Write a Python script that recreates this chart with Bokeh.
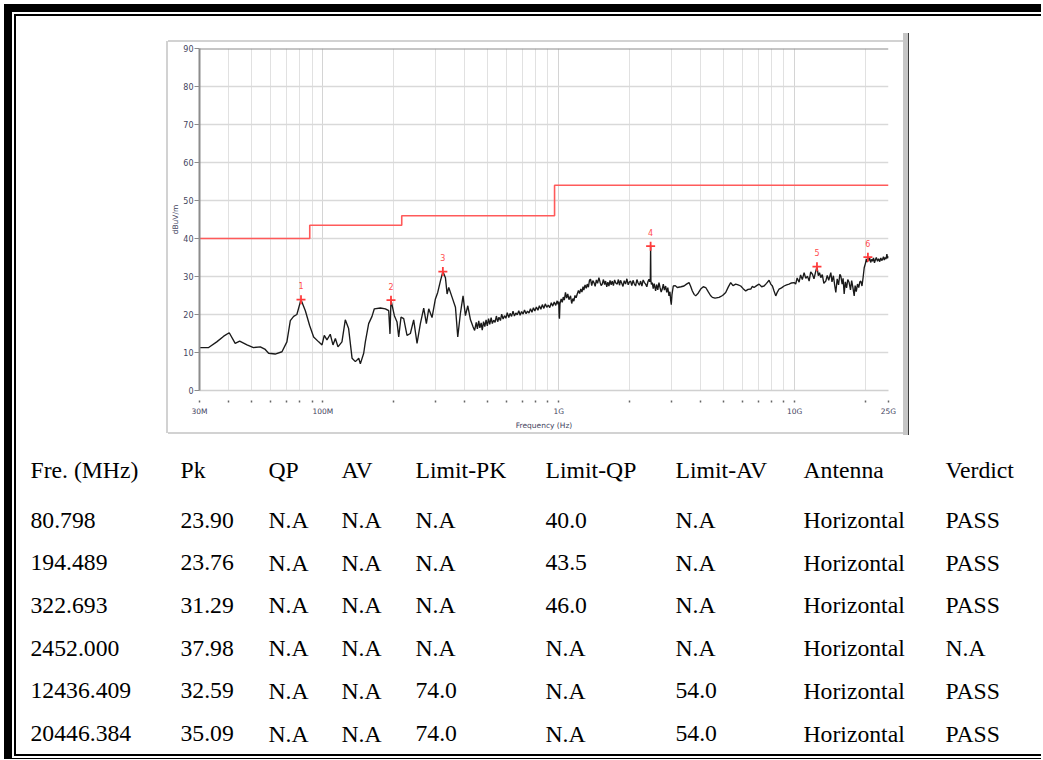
from bokeh.plotting import figure
from bokeh.models import (Range1d, FixedTicker, CustomJSTickFormatter, Span,
                          ColumnDataSource, Spacer)
from bokeh.layouts import column, row
from bokeh.embed import file_html
from bokeh.resources import INLINE
from bokeh.core.properties import value

# ---------------------------------------------------------------- data
# measured trace read from the picture: (frequency in MHz, level in dBuV/m)
trace_30m_434m = [
    (30.0, 11.3), (32.8, 11.3), (35.5, 12.8), (38.0, 14.3), (40.1, 15.2), (42.5, 12.4),
    (44.4, 13.0), (47.7, 12.0), (50.8, 11.3), (54.3, 11.5), (57.0, 10.8), (58.9, 9.8),
    (62.8, 9.6), (67.1, 10.2), (70.4, 12.8), (72.8, 18.4), (75.2, 19.5), (77.6, 20.0),
    (80.8, 23.9), (84.3, 21.0), (87.9, 17.1), (91.4, 14.1), (96.0, 12.8), (99.2, 12.0),
    (101.4, 14.5), (104.1, 13.3), (107.5, 14.8), (110.4, 12.0), (113.0, 13.7), (115.9, 11.5),
    (120.5, 12.8), (124.5, 18.6), (128.6, 16.3), (133.0, 8.5), (137.4, 7.6), (142.0, 8.5),
    (144.2, 7.0), (149.0, 9.8), (151.4, 12.8), (156.4, 17.6), (161.6, 19.5), (165.3, 21.5),
    (175.4, 21.7), (184.1, 21.5), (190.2, 21.0), (192.6, 14.9), (194.5, 23.76), (201.0, 19.7),
    (206.3, 18.0), (209.7, 14.1), (214.5, 19.3), (220.2, 18.9), (227.4, 14.5), (235.0, 15.0),
    (242.7, 18.6), (250.8, 12.4), (259.1, 17.6), (267.7, 21.7), (274.7, 17.6), (281.1, 21.5),
    (290.3, 19.2), (300.0, 24.1), (306.9, 25.8), (315.0, 28.8), (322.7, 31.29), (330.9, 29.7),
    (336.3, 25.4), (341.8, 27.1), (353.2, 24.5), (364.9, 21.9), (373.2, 14.1), (382.8, 20.2),
    (393.0, 24.9), (402.2, 19.7), (411.6, 22.3), (422.5, 18.6), (433.6, 16.7),
]
trace_440m_1g = [
    (440, 15.8), (447, 17.9), (452, 16.2), (458, 18.3), (463, 16.5), (469, 17.8), (474, 15.9),
    (480, 18.1), (486, 16.8), (492, 18.6), (498, 17.0), (504, 18.9), (510, 17.4), (517, 19.2),
    (523, 17.6), (530, 18.5), (537, 17.9), (544, 19.6), (551, 18.1), (558, 19.3), (566, 18.4),
    (573, 20.1), (581, 18.8), (589, 19.7), (597, 19.0), (605, 20.5), (614, 19.2), (622, 20.3),
    (631, 19.5), (640, 20.9), (649, 19.6), (658, 20.4), (667, 19.9), (677, 21.0), (686, 19.8),
    (696, 20.8), (706, 20.1), (716, 21.2), (727, 20.2), (737, 20.9), (748, 20.4), (759, 21.5),
    (770, 20.6), (781, 21.8), (792, 20.9), (804, 22.0), (816, 21.1), (828, 22.3), (840, 21.4),
    (852, 22.6), (865, 21.6), (877, 22.8), (890, 21.9), (903, 22.5), (916, 21.8), (930, 23.1),
    (943, 22.2), (957, 23.3), (971, 22.4), (985, 23.6), (994, 22.7),
]
trace_1g_3g = [
    (1000, 23.4), (1004, 19.5), (1007, 18.9), (1012, 22.8), (1024, 24.1), (1035, 23.2),
    (1045, 24.6), (1056, 23.8), (1068, 25.8), (1080, 24.3), (1092, 25.4), (1105, 23.9),
    (1122, 24.9), (1135, 22.9), (1148, 24.2), (1159, 23.5), (1172, 25.0), (1185, 24.4),
    (1198, 25.4), (1212, 26.3), (1226, 25.5), (1240, 26.7), (1254, 25.9), (1268, 27.3),
    (1278, 26.4), (1293, 27.8), (1308, 26.9), (1321, 28.0), (1336, 27.2), (1350, 29.0),
    (1364, 29.3), (1380, 27.6), (1395, 28.9), (1410, 28.4), (1427, 27.4), (1444, 29.1),
    (1461, 28.2), (1480, 29.7), (1497, 28.5), (1513, 27.6), (1529, 28.0), (1547, 29.2),
    (1565, 27.9), (1580, 28.8), (1598, 27.3), (1615, 28.5), (1632, 27.5), (1650, 29.0),
    (1668, 27.8), (1686, 28.8), (1705, 27.6), (1725, 29.1), (1745, 28.3), (1770, 28.0),
    (1790, 29.2), (1810, 27.7), (1828, 29.0), (1850, 28.2), (1872, 27.4), (1895, 28.9),
    (1920, 28.0), (1945, 29.4), (1970, 27.8), (1995, 28.6), (2017, 28.8), (2040, 27.6),
    (2065, 29.0), (2090, 28.1), (2117, 27.5), (2145, 29.2), (2170, 28.3), (2197, 27.7),
    (2224, 28.8), (2252, 27.5), (2280, 29.1), (2308, 28.4), (2335, 28.0), (2363, 27.3),
    (2390, 28.7), (2413, 29.3), (2430, 28.6), (2445, 29.5), (2452, 37.98), (2459, 29.0),
    (2470, 27.9), (2492, 28.4), (2515, 26.8), (2540, 28.1), (2575, 26.2), (2600, 27.9),
    (2630, 26.5), (2660, 28.4), (2690, 27.0), (2718, 25.9), (2747, 26.7), (2775, 28.0),
    (2805, 26.4), (2839, 27.5), (2870, 25.8), (2900, 27.1), (2933, 24.9), (2960, 26.0),
    (2985, 23.5), (3000, 22.6), (3020, 25.2), (3059, 27.5),
]
trace_3g_10g = [
    (3120, 27.6), (3181, 27.1), (3300, 27.3), (3396, 27.5), (3480, 28.0), (3567, 28.4),
    (3620, 27.5), (3685, 26.2), (3750, 25.3), (3807, 24.9), (3900, 25.6), (3997, 26.7),
    (4100, 27.3), (4198, 27.1), (4300, 26.0), (4400, 25.0), (4480, 24.5), (4600, 24.3),
    (4782, 24.5), (4950, 25.0), (5103, 25.8), (5230, 27.2), (5358, 28.4), (5480, 27.6),
    (5626, 28.0), (5760, 27.8), (5909, 27.5), (6050, 26.8), (6205, 26.2), (6350, 26.6),
    (6516, 26.7), (6620, 27.4), (6729, 27.1), (6900, 27.6), (7067, 28.0), (7250, 27.3),
    (7421, 27.5), (7600, 28.2), (7792, 29.0), (7920, 28.0), (8052, 27.5), (8180, 26.2),
    (8318, 24.9), (8450, 25.9), (8593, 26.7), (8800, 27.0), (9024, 27.5), (9250, 27.8),
    (9474, 28.0), (9700, 28.3), (9949, 28.4),
]
trace_10g_25g = [
    (10100, 28.0), (10250, 29.6), (10447, 28.5), (10600, 30.4), (10780, 29.2), (10970, 31.0),
    (11150, 29.5), (11333, 30.1), (11520, 28.8), (11700, 31.2), (11900, 30.6), (12080, 29.4),
    (12250, 31.0), (12436, 32.59), (12600, 30.2), (12750, 31.0), (12912, 29.7), (13100, 30.5),
    (13300, 28.2), (13557, 28.8), (13750, 30.3), (13950, 29.0), (14235, 31.0), (14400, 28.6),
    (14600, 30.2), (14800, 27.5), (14948, 25.8), (15150, 29.4), (15350, 27.8), (15550, 30.6),
    (15700, 30.1), (15900, 28.0), (16050, 29.5), (16218, 25.4), (16400, 28.6), (16600, 27.0),
    (16800, 29.2), (17025, 28.4), (17250, 26.5), (17450, 28.9), (17650, 27.2), (17886, 24.9),
    (18050, 27.6), (18250, 26.0), (18477, 28.0), (18700, 27.1), (18900, 28.6), (19089, 28.8),
    (19300, 27.5), (19500, 29.6), (19722, 32.3), (19950, 33.4), (20150, 34.6), (20300, 33.8),
    (20446, 35.09), (20600, 34.2), (20800, 34.8), (21000, 33.7), (21200, 34.5), (21387, 34.0),
    (21600, 34.9), (21800, 33.6), (22000, 34.4), (22200, 35.0), (22455, 34.0), (22700, 34.7),
    (22950, 33.9), (23200, 34.9), (23400, 34.2), (23589, 34.5), (23800, 35.2), (24000, 34.3),
    (24200, 35.0), (24400, 34.6), (24606, 35.9), (24800, 34.8), (25000, 35.3),
]

# limit line (MHz, dBuV/m)
limit_mhz = [30, 88, 88, 216, 216, 960, 960, 25000]
limit_dbuv = [40.0, 40.0, 43.5, 43.5, 46.0, 46.0, 54.0, 54.0]

# marked peaks / table rows
peak_no = ["1", "2", "3", "4", "5", "6"]
peak_mhz = [80.798, 194.489, 322.693, 2452.000, 12436.409, 20446.384]
peak_pk = [23.90, 23.76, 31.29, 37.98, 32.59, 35.09]
peak_qp = [None, None, None, None, None, None]
peak_av = [None, None, None, None, None, None]
peak_limit_pk = [None, None, None, None, 74.0, 74.0]
peak_limit_qp = [40.0, 43.5, 46.0, None, None, None]
peak_limit_av = [None, None, None, None, 54.0, 54.0]
peak_antenna = ["Horizontal"] * 6
peak_verdict = ["PASS", "PASS", "PASS", "N.A", "PASS", "PASS"]
table_headers = ["Fre. (MHz)", "Pk", "QP", "AV", "Limit-PK", "Limit-QP",
                 "Limit-AV", "Antenna", "Verdict"]

# axes
x_tick_hz = [30e6, 100e6, 1e9, 10e9, 25e9]
x_tick_labels = ["30M", "100M", "1G", "10G", "25G"]
x_minor_hz = [m * 10 ** e for e in (7, 8, 9, 10) for m in range(2, 10)
              if 30e6 < m * 10 ** e < 25e9 and m * 10 ** e not in (1e8, 1e9, 1e10)]
y_ticks = [0, 10, 20, 30, 40, 50, 60, 70, 80, 90]

# ---------------------------------------------------------------- style constants
TICK_FONT = "DejaVu Sans"
TICK_COLOR = "#44445e"
BOX_GRAY = "#d2d2d2"


def S(w, h, color=None):
    if color is None:
        return Spacer(width=w, height=h)
    return Spacer(width=w, height=h, styles={"background-color": color})


# ---------------------------------------------------------------- chart
p = figure(width=735, height=390, x_axis_type="log", title=None,
           x_range=Range1d(30e6, 25e9), y_range=Range1d(0, 90),
           output_backend="svg", toolbar_location=None, frame_align=False,
           min_border_left=31, min_border_right=15,
           min_border_top=6, min_border_bottom=38,
           background_fill_color="white", border_fill_color="white",
           outline_line_color=None)

segments = [trace_30m_434m, trace_440m_1g, trace_1g_3g, trace_3g_10g, trace_10g_25g]
trace_hz = [f * 1e6 for seg in segments for f, _ in seg]
trace_db = [v for seg in segments for _, v in seg]
p.line(trace_hz, trace_db, line_color="#1a1a1a", line_width=1.35)

p.line([f * 1e6 for f in limit_mhz], limit_dbuv, line_color="#ff5a5a", line_width=1.6)

peaks = ColumnDataSource(dict(x=[f * 1e6 for f in peak_mhz], y=peak_pk, n=peak_no))
p.scatter("x", "y", source=peaks, marker="cross", size=9,
          line_color="#ff3b3b", line_width=1.8)
p.text("x", "y", text="n", source=peaks, text_color="#ff4d4d",
       text_font=value(TICK_FONT), text_font_size="8px",
       text_align="center", text_baseline="middle", y_offset=-14)

xt = FixedTicker(ticks=x_tick_hz, minor_ticks=x_minor_hz)
yt = FixedTicker(ticks=y_ticks)

xa = p.xaxis[0]
xa.ticker = xt
xa.formatter = CustomJSTickFormatter(
    args=dict(vals=x_tick_hz, labs=x_tick_labels),
    code="const i = vals.findIndex(v => Math.abs(v - tick) <= 1e-6 * v);"
         "return i >= 0 ? labs[i] : '';")
xa.axis_line_color = "#d0d0d0"
xa.axis_line_width = 1.5
xa.major_tick_in = -10
xa.major_tick_out = 12
xa.minor_tick_in = -10
xa.minor_tick_out = 12
xa.major_tick_line_color = "#666666"
xa.minor_tick_line_color = "#666666"
xa.major_tick_line_width = 1.5
xa.minor_tick_line_width = 1.5
xa.major_label_text_font = TICK_FONT
xa.major_label_text_font_size = "7.5px"
xa.major_label_text_color = TICK_COLOR
xa.major_label_standoff = 4
xa.axis_label = "Frequency (Hz)"
xa.axis_label_text_font = TICK_FONT
xa.axis_label_text_font_size = "7.5px"
xa.axis_label_text_font_style = "normal"
xa.axis_label_text_color = TICK_COLOR
xa.axis_label_standoff = 2

ya = p.yaxis[0]
ya.ticker = yt
ya.axis_line_color = "#8c8c8c"
ya.axis_line_width = 2
ya.major_tick_in = 0
ya.major_tick_out = 5
ya.major_tick_line_color = "#8c8c8c"
ya.minor_tick_line_color = None
ya.major_label_text_font = TICK_FONT
ya.major_label_text_font_size = "8px"
ya.major_label_text_color = TICK_COLOR
ya.major_label_standoff = 1
ya.axis_label = "dBuV/m"
ya.axis_label_text_font = TICK_FONT
ya.axis_label_text_font_size = "7.5px"
ya.axis_label_text_font_style = "normal"
ya.axis_label_text_color = TICK_COLOR
ya.axis_label_standoff = 0

p.xgrid.ticker = xt
p.xgrid.grid_line_color = "#d4d4d4"
p.xgrid.minor_grid_line_color = "#e1e1e1"
p.ygrid.ticker = yt
p.ygrid.grid_line_color = "#d9d9d9"
p.ygrid.grid_line_width = 1.5

p.add_layout(Span(location=90, dimension="width", line_color="#8c8c8c", line_width=2))

# ---------------------------------------------------------------- table
def fmt(v, nd=1):
    return "N.A" if v is None else f"{v:.{nd}f}"


rows = []
for i in range(len(peak_mhz)):
    rows.append([f"{peak_mhz[i]:.3f}", f"{peak_pk[i]:.2f}", fmt(peak_qp[i], 2),
                 fmt(peak_av[i], 2), fmt(peak_limit_pk[i]), fmt(peak_limit_qp[i]),
                 fmt(peak_limit_av[i]), peak_antenna[i], peak_verdict[i]])

TW, TH = 1025, 314
col_x = [14, 164, 252, 325, 399, 529, 659, 787, 929]
header_y = 29
first_row_y = 79.5
row_step = 42.7

tx, ty, tt = [], [], []
for j, h in enumerate(table_headers):
    tx.append(col_x[j]); ty.append(header_y); tt.append(h)
for i, r in enumerate(rows):
    for j, c in enumerate(r):
        tx.append(col_x[j]); ty.append(first_row_y + i * row_step); tt.append(c)

t = figure(width=TW, height=TH, x_range=Range1d(0, TW), y_range=Range1d(TH, 0),
           output_backend="svg", toolbar_location=None, min_border=0, title=None,
           x_axis_location=None, y_axis_location=None, frame_align=False,
           background_fill_color="white", border_fill_color="white",
           outline_line_color=None)
t.grid.visible = False
t.text(tx, ty, text=tt, text_font=value("Liberation Serif"), text_font_size="23.7px",
       text_color="black", text_align="left", text_baseline="middle")

# ---------------------------------------------------------------- page layout
chart_block = row(
    S(150, 424),
    column(S(2, 25), S(2, 392, BOX_GRAY)),
    column(S(735, 24), S(735, 2, BOX_GRAY), p, S(735, 2, BOX_GRAY)),
    column(S(5, 17), S(5, 402, "#c6c6c6")),
    column(S(1, 17), S(1, 402, "#3c3c3c")),
    S(132, 424),
)
content = column(chart_block, t)

page = column(
    S(1041, 4),
    row(
        S(4, 755),
        S(8, 755, "black"),
        column(
            S(1029, 8, "black"),
            row(
                S(2, 746),
                column(
                    S(1027, 2),
                    row(
                        S(2, 742, "black"),
                        column(S(1025, 2, "black"), content, S(1025, 2, "black")),
                    ),
                    S(1027, 2),
                ),
            ),
            S(1029, 1, "black"),
        ),
    ),
)

open("out.html", "w").write(file_html(page, INLINE))
